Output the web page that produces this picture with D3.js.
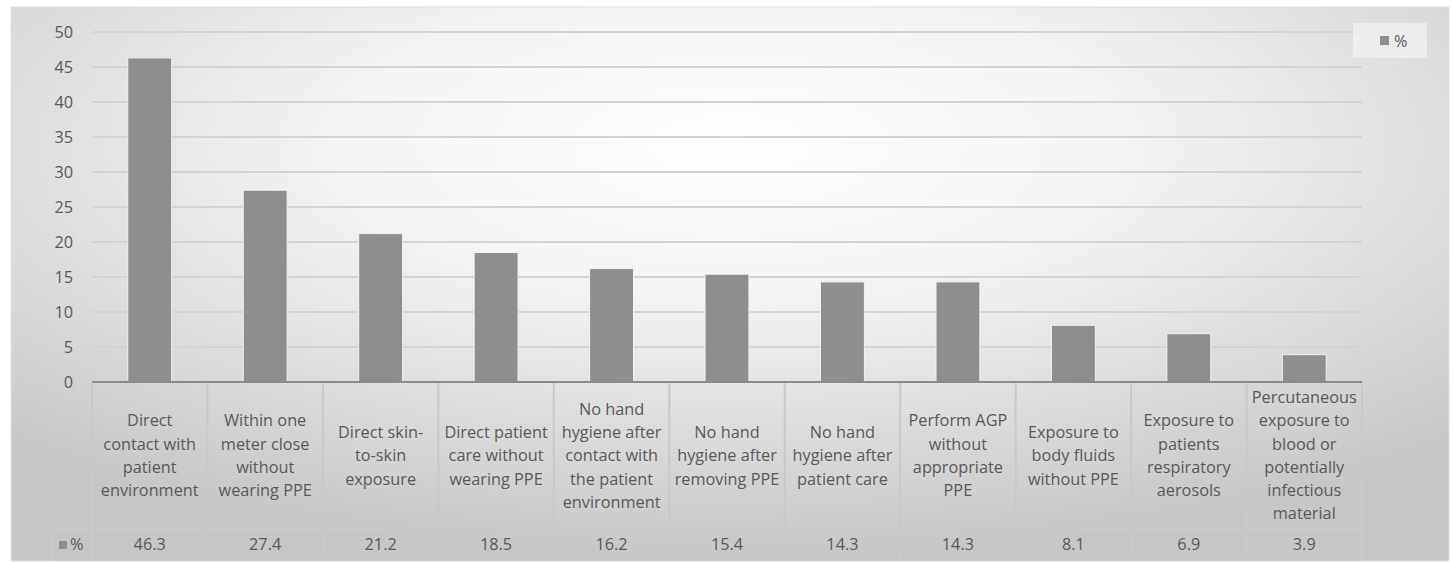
<!DOCTYPE html>
<html lang="en">
<head>
  <meta charset="UTF-8">
  <title>exposure risk</title>
  <style>
    * { padding: 0; margin: 0; }
    body { background: #fff; }
    svg text { font-family: "Open Sans", "Noto Sans", sans-serif; fill: #595959; }
  </style>
</head>
<body>
  <script src="https://d3js.org/d3.v7.min.js"></script>
  <script>
    const categories = [
      'Direct\ncontact with\npatient\nenvironment',
      'Within one\nmeter close\nwithout\nwearing PPE',
      'Direct skin-\nto-skin\nexposure',
      'Direct patient\ncare without\nwearing PPE',
      'No hand\nhygiene after\ncontact with\nthe patient\nenvironment',
      'No hand\nhygiene after\nremoving PPE',
      'No hand\nhygiene after\npatient care',
      'Perform AGP\nwithout\nappropriate\nPPE',
      'Exposure to\nbody fluids\nwithout PPE',
      'Exposure to\npatients\nrespiratory\naerosols',
      'Percutaneous\nexposure to\nblood or\npotentially\ninfectious\nmaterial'
    ];
    const values = [46.3, 27.4, 21.2, 18.5, 16.2, 15.4, 14.3, 14.3, 8.1, 6.9, 3.9];
    const yTicks = [0, 5, 10, 15, 20, 25, 30, 35, 40, 45, 50];
    const seriesName = '%';

    const width = 1453, height = 562;
    const plotLeft = 92, plotRight = 1362, plotTop = 32, base = 382;
    const catBottom = 529, valBottom = 560, keyLeft = 51;
    const fs = '16.3px';

    const svg = d3.select('body').append('svg')
      .attr('width', width)
      .attr('height', height);

    const defs = svg.append('defs');
    const grad = defs.append('radialGradient')
      .attr('id', 'bg')
      .attr('cx', '50%').attr('cy', '25%')
      .attr('r', '75%');
    grad.append('stop').attr('offset', '0%').attr('stop-color', '#ffffff');
    grad.append('stop').attr('offset', '35%').attr('stop-color', '#f4f4f4');
    grad.append('stop').attr('offset', '100%').attr('stop-color', '#c6c6c6');

    svg.append('rect')
      .attr('x', 11).attr('y', 7)
      .attr('width', 1438).attr('height', 554)
      .attr('fill', 'url(#bg)')
      .attr('stroke', '#e0e0e0');

    const x = d3.scaleBand()
      .domain(d3.range(categories.length))
      .range([plotLeft, plotRight])
      .paddingInner(0.62)
      .paddingOuter(0.31);

    const y = d3.scaleLinear().domain([0, 50]).range([base, plotTop]);

    // gridlines
    svg.append('g')
      .selectAll('line')
      .data(yTicks.filter(d => d > 0))
      .join('line')
      .attr('x1', plotLeft).attr('x2', plotRight)
      .attr('y1', d => y(d)).attr('y2', d => y(d))
      .attr('stroke', '#d3d3d3')
      .attr('stroke-width', 2);

    // y axis labels
    const yAxis = d3.axisLeft(y).tickValues(yTicks).tickSize(0).tickPadding(0);
    const ya = svg.append('g')
      .attr('transform', `translate(${plotLeft - 19},0)`)
      .call(yAxis);
    ya.select('.domain').remove();
    ya.selectAll('text')
      .style('font-size', fs)
      .style('font-family', '"Open Sans", sans-serif')
      .attr('fill', '#595959');

    // bars
    svg.append('g')
      .selectAll('rect')
      .data(values)
      .join('rect')
      .attr('x', (d, i) => x(i))
      .attr('width', x.bandwidth())
      .attr('y', d => y(d))
      .attr('height', d => base - y(d))
      .attr('fill', '#8e8e8e')
      .attr('stroke', '#f2f2f2')
      .attr('stroke-width', 1);

    // data table
    const colX = d3.scaleBand().domain(d3.range(categories.length)).range([plotLeft, plotRight]);
    const table = svg.append('g');
    const lineColor = '#c9c9c9';

    table.selectAll('line.col')
      .data(d3.range(categories.length + 1))
      .join('line')
      .attr('class', 'col')
      .attr('x1', i => plotLeft + i * colX.step())
      .attr('x2', i => plotLeft + i * colX.step())
      .attr('y1', base).attr('y2', valBottom)
      .attr('stroke', lineColor).attr('stroke-width', 2);

    table.append('line')
      .attr('x1', keyLeft).attr('x2', keyLeft)
      .attr('y1', catBottom).attr('y2', valBottom)
      .attr('stroke', lineColor).attr('stroke-width', 2);
    table.append('line')
      .attr('x1', keyLeft).attr('x2', plotRight)
      .attr('y1', catBottom).attr('y2', catBottom)
      .attr('stroke', lineColor).attr('stroke-width', 2);
    table.append('line')
      .attr('x1', keyLeft).attr('x2', plotRight)
      .attr('y1', valBottom).attr('y2', valBottom)
      .attr('stroke', lineColor).attr('stroke-width', 2);

    // category axis line
    svg.append('line')
      .attr('x1', plotLeft).attr('x2', plotRight)
      .attr('y1', base).attr('y2', base)
      .attr('stroke', '#8c8c8c').attr('stroke-width', 2);

    const lh = 23.3;
    table.selectAll('text.cat')
      .data(categories)
      .join('text')
      .attr('class', 'cat')
      .attr('text-anchor', 'middle')
      .style('font-size', fs)
      .each(function (d, i) {
        const lines = d.split('\n');
        const cx = colX(i) + colX.bandwidth() / 2;
        const cy = (base + catBottom) / 2 - (lines.length - 1) * lh / 2;
        d3.select(this).selectAll('tspan')
          .data(lines)
          .join('tspan')
          .attr('x', cx)
          .attr('y', (l, k) => cy + k * lh)
          .attr('dy', '0.35em')
          .text(l => l);
      });

    table.selectAll('text.val')
      .data(values)
      .join('text')
      .attr('class', 'val')
      .attr('text-anchor', 'middle')
      .style('font-size', fs)
      .attr('x', (d, i) => colX(i) + colX.bandwidth() / 2)
      .attr('y', (catBottom + valBottom) / 2)
      .attr('dy', '0.35em')
      .text(d => d.toFixed(1));

    // series key in table
    table.append('rect')
      .attr('x', 59).attr('y', 541).attr('width', 8).attr('height', 8)
      .attr('fill', '#8e8e8e');
    table.append('text')
      .attr('x', 70).attr('y', (catBottom + valBottom) / 2).attr('dy', '0.35em')
      .style('font-size', fs)
      .text(seriesName);

    // legend
    const lg = svg.append('g').attr('transform', 'translate(1353,23)');
    lg.append('rect').attr('width', 74).attr('height', 35).attr('fill', '#f2f2f2').attr('opacity', 0.7);
    lg.append('rect').attr('x', 27).attr('y', 13).attr('width', 9).attr('height', 9).attr('fill', '#8e8e8e');
    lg.append('text').attr('x', 41).attr('y', 18).attr('dy', '0.35em')
      .style('font-size', fs).text(seriesName);
  </script>
</body>
</html>
